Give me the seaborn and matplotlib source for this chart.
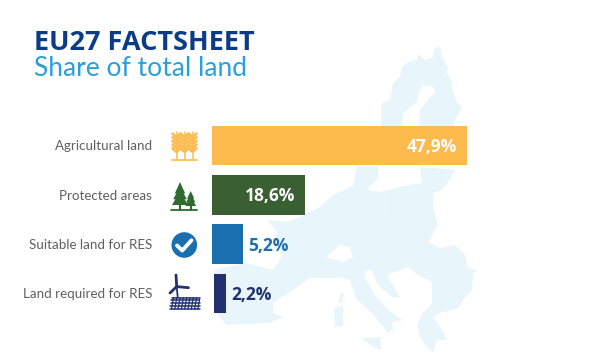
import matplotlib
matplotlib.use('Agg')
import matplotlib.pyplot as plt
from matplotlib.patches import Polygon, Circle
import pandas as pd
import seaborn as sns

categories = ['Agricultural land', 'Protected areas', 'Suitable land for RES', 'Land required for RES']
# drawn lengths, the source bars are not quite to scale with their labels
bar_lengths = [47.9, 17.5, 5.8, 2.35]
value_labels = ['47,9%', '18,6%', '5,2%', '2,2%']
colors = ['#FDBA4D', '#3A5F33', '#1A6FAE', '#21306F']

MAP = '#E8F5FA'
sns.set_style('white')
plt.rcParams['font.family'] = ['Open Sans', 'DejaVu Sans']

fig = plt.figure(figsize=(6.05, 3.57), dpi=100)

# background layer in pixel coordinates: map, icons, title
bg = fig.add_axes([0, 0, 1, 1], zorder=0)
bg.set_xlim(0, 605)
bg.set_ylim(357, 0)
bg.axis('off')

scandinavia = [(381, 130), (381, 120), (382, 103), (390, 100), (393, 83), (400, 77), (402, 67), (408, 62),
               (417, 60), (418, 54), (425, 60), (433, 57), (435, 48), (440, 47), (442, 57), (448, 68),
               (447, 73), (452, 82), (452, 90), (457, 102), (462, 108), (455, 120), (453, 130),
               (419, 130), (419, 123), (420, 110), (430, 97), (435, 92), (433, 87), (423, 85), (418, 95),
               (417, 102), (403, 113), (402, 130)]
mainland = [(267, 220), (287, 222), (300, 217), (320, 207), (333, 195), (353, 186), (357, 166), (378, 166),
            (378, 178), (367, 190), (380, 192), (400, 187), (422, 183), (420, 167), (455, 170), (447, 183),
            (442, 190), (433, 193), (433, 208), (438, 225), (428, 242), (440, 248), (455, 245), (465, 255),
            (468, 268), (477, 270), (473, 273), (472, 290), (463, 300), (458, 308), (440, 313), (433, 317),
            (442, 330), (447, 340), (437, 340), (433, 353), (427, 347), (420, 337), (417, 325), (423, 313),
            (432, 303), (432, 282), (418, 275), (408, 267), (387, 275), (400, 298), (392, 297), (378, 285),
            (372, 270), (365, 270), (365, 278), (375, 295), (388, 310), (403, 320), (392, 322), (393, 330),
            (388, 333), (372, 313), (357, 300), (350, 280), (342, 277), (338, 278), (310, 278), (293, 290),
            (273, 303), (273, 313), (283, 317), (270, 323), (227, 325), (216, 313), (214, 270), (245, 263),
            (273, 270), (282, 257), (278, 248), (276, 230)]
sicily = [(362, 338), (380, 337), (381, 350), (372, 346)]
sardinia = [(334, 308), (343, 306), (343, 326), (335, 327)]
corsica = [(341, 292), (344, 295), (342, 303), (338, 302)]
for shape in [scandinavia, mainland, sicily, sardinia, corsica]:
    bg.add_patch(Polygon(shape, closed=True, fc=MAP, ec='none'))

# switzerland stays white
bg.add_patch(Polygon([(326, 257), (340, 245), (350, 247), (353, 257), (343, 262), (332, 259)], fc='white', ec='none'))

# faint country borders
for line in [[(386, 192), (384, 215), (372, 222), (350, 232)], [(384, 215), (400, 235), (428, 242)],
             [(350, 232), (375, 245), (428, 242)], [(432, 282), (450, 285), (470, 280)]]:
    bg.plot(*zip(*line), color='#EFF9FC', lw=0.5)

# wheat icon
wheat = colors[0]
for sx in [176.5, 184.5, 192.5]:
    bg.plot([sx, sx], [132, 159], color=wheat, lw=1.1)
    for k in range(5):
        ty = 137 + k * 3.7
        bg.plot([sx - 4, sx, sx + 4], [ty - 3.4, ty, ty - 3.4], color=wheat, lw=1.9)
bg.plot([172, 197], [160, 160], color=wheat, lw=1.2)

# trees icon
green = '#2F6B2E'
for cx, top, bottom, half in [(180, 182, 205, 8), (190.7, 191, 206, 5.5)]:
    h = bottom - top
    for a, b, w in [(0, 0.5, 0.65), (0.2, 0.75, 0.85), (0.4, 1, 1)]:
        bg.add_patch(Polygon([(cx, top + a * h), (cx - half * w, top + b * h), (cx + half * w, top + b * h)], fc=green, ec='none'))
    bg.plot([cx, cx], [bottom, 210], color=green, lw=1.6)
bg.plot([171, 197], [210, 210], color=green, lw=1.3)

# check icon
bg.add_patch(Circle((184.3, 245), 12.8, fc=colors[2], ec='none'))
bg.plot([177, 182.3, 191.5], [245.5, 250.5, 240.3], color='white', lw=2.8, solid_capstyle='round', solid_joinstyle='round')

# turbine icon
navy = colors[3]
for end in [(176, 275), (188.5, 287.7), (170, 293)]:
    bg.plot([176.7, end[0]], [286.6, end[1]], color=navy, lw=2)
bg.plot([176.7, 177.7], [286.6, 297], color=navy, lw=1.3)
for k in range(5):
    py = 297.5 + k * 2.9
    off = (4 - k) * 0.6
    bg.plot([169.5 + off, 200 - off * 0.4], [py, py], color=navy, lw=1.1)
for k in range(9):
    px = 172 + k * 3.3
    bg.plot([px + 1.5, px - 0.5], [297.5, 309], color=navy, lw=0.9)

bg.text(34, 50, 'EU27 FACTSHEET', color='#0B3C86', fontsize=19.5, fontweight='bold', va='baseline', ha='left')
bg.text(34, 76, 'Share of total land', color='#2A9FDC', fontsize=19, family='Lato', va='baseline', ha='left')

# bars, 5.32 px per unit and 49.3 px per row
ax = fig.add_axes([212 / 605, 0, 393 / 605, 1], zorder=1)
ax.patch.set_alpha(0)
df = pd.DataFrame({'category': categories, 'length': bar_lengths})
sns.barplot(data=df, y='category', x='length', hue='category', palette=colors, dodge=False,
            legend=False, width=0.8, ax=ax, saturation=1)
ax.set_xlim(0, 393 / 5.32)
ax.set_ylim((357 - 145.5) / 49.3, -145.5 / 49.3)
ax.set_xlabel('')
ax.set_ylabel('')
ax.set_xticks([])
ax.tick_params(axis='y', length=0, pad=43, labelsize=9.6)
for tick in ax.get_yticklabels():
    tick.set_family('Lato')
    tick.set_color('#5F5F5F')
sns.despine(ax=ax, left=True, bottom=True)

bars = [c[0] for c in ax.containers]
bars[3].set_x(0.3)
for bar in bars:
    bar.set_linewidth(0)

for i, (bar, label, c) in enumerate(zip(bars, value_labels, colors)):
    end = bar.get_x() + bar.get_width()
    inside = i < 2
    ax.annotate(label, (end, i), xytext=(-7.2 if inside else 3.6, -1.2), textcoords='offset points',
                ha='right' if inside else 'left', va='center', fontsize=12.5, fontweight='bold',
                color='white' if inside else c)

fig.savefig('out.png', dpi=100)
